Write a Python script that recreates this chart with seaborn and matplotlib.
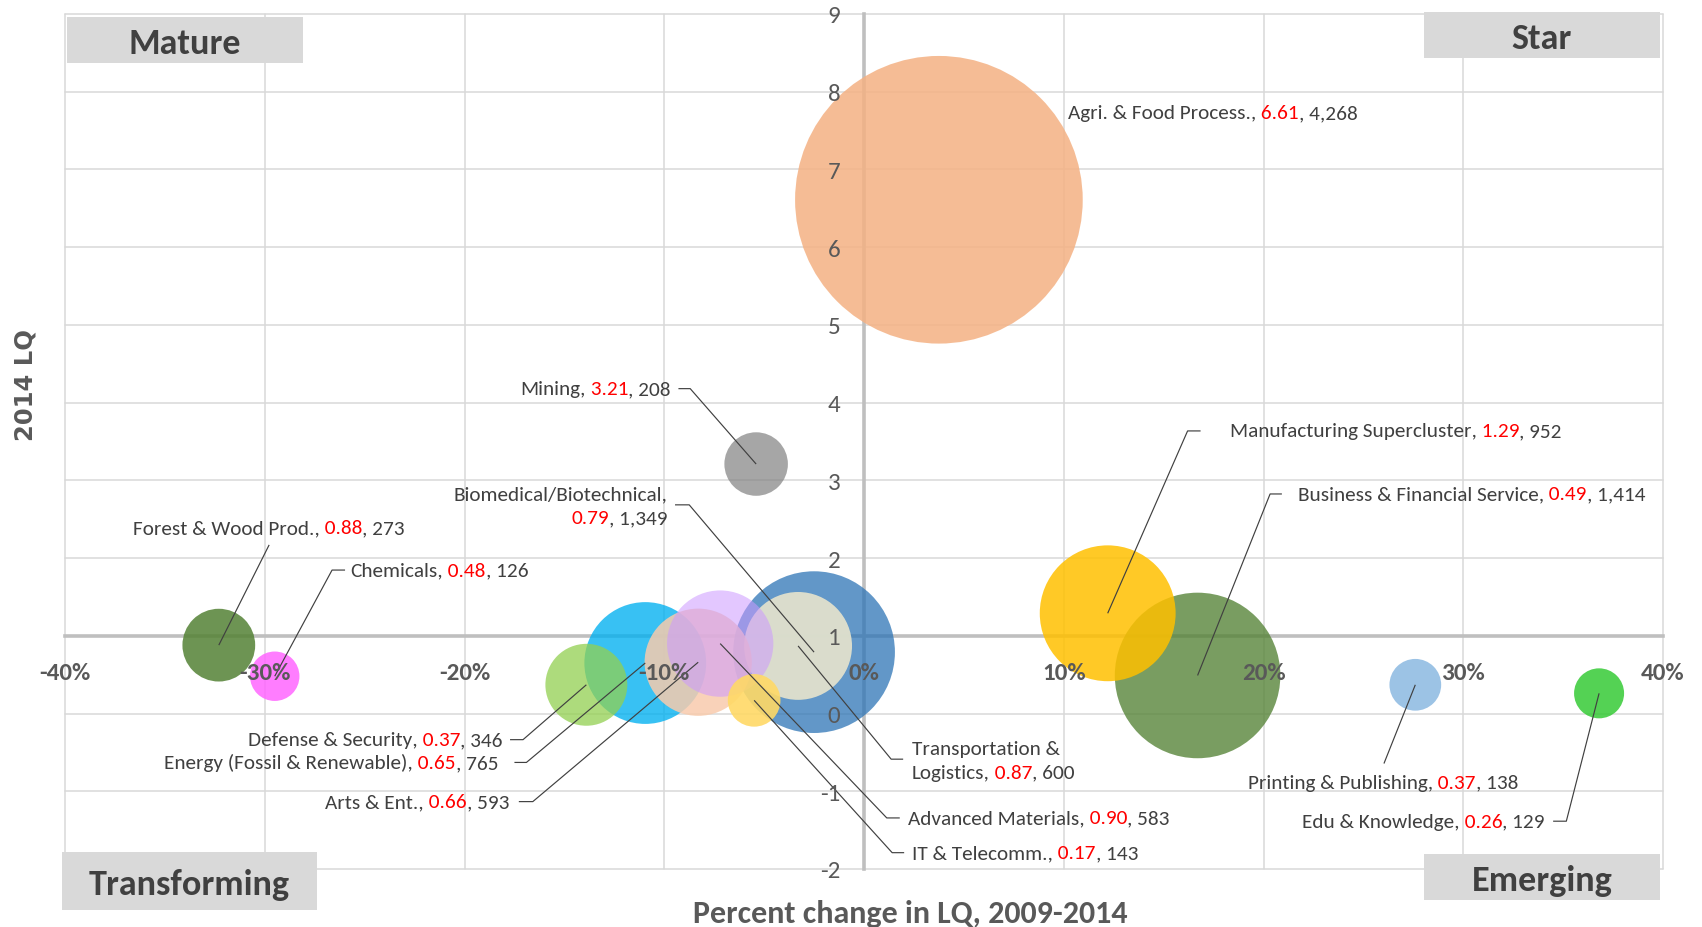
import matplotlib
matplotlib.use("Agg")
import matplotlib.pyplot as plt
from matplotlib.offsetbox import TextArea, HPacker, VPacker, AnnotationBbox
from matplotlib.patches import Rectangle
import pandas as pd
import seaborn as sns

# data (x = % change in LQ 2009-2014, y = 2014 LQ, size = employment)
clusters = ["Agri. & Food Process.", "Mining", "Forest & Wood Prod.", "Chemicals",
            "Biomedical/Biotechnical", "Transportation & Logistics",
            "Energy (Fossil & Renewable)", "Defense & Security", "Arts & Ent.",
            "Advanced Materials", "IT & Telecomm.", "Business & Financial Service",
            "Manufacturing Supercluster", "Printing & Publishing", "Edu & Knowledge"]
pct_change = [0.0375, -0.054, -0.323, -0.295, -0.025, -0.033, -0.1095, -0.139,
              -0.083, -0.072, -0.055, 0.167, 0.122, 0.276, 0.368]
lq_2014 = [6.61, 3.21, 0.88, 0.48, 0.79, 0.87, 0.65, 0.37, 0.66, 0.90, 0.17,
           0.49, 1.29, 0.37, 0.26]
employment = [4268, 208, 273, 126, 1349, 600, 765, 346, 593, 583, 143, 1414,
              952, 138, 129]
colors = ["#F4B183D9", "#808080B3", "#548235D9", "#FF66FFD9", "#2E75B6BF",
          "#E1E1CDF2", "#00B0F0C7", "#92D050BF", "#F8CBADD9", "#CC99FF8C",
          "#FFD966E6", "#548235C7", "#FFC000D9", "#5B9BD599", "#36CA36D9"]

x_ticks = [-0.4, -0.3, -0.2, -0.1, 0.0, 0.1, 0.2, 0.3, 0.4]
x_tick_labels = ["-40%", "-30%", "-20%", "-10%", "0%", "10%", "20%", "30%", "40%"]
y_ticks = [-2, -1, 0, 1, 2, 3, 4, 5, 6, 7, 8, 9]

quadrants = ["Mature", "Star", "Transforming", "Emerging"]

# label placement: (x, y, alignment, leader elbow points)
label_pos = {
    "Agri. & Food Process.": (0.1022, 7.73, "left", None),
    "Mining": (-0.0967, 4.18, "right", [(-0.0929, 4.18), (-0.0870, 4.18)]),
    "Biomedical/Biotechnical": (-0.0984, 2.67, "right", [(-0.0946, 2.685), (-0.0875, 2.685)]),
    "Forest & Wood Prod.": (-0.298, 2.39, "center", [(-0.2978, 2.17)]),
    "Chemicals": (-0.257, 1.846, "left", [(-0.2598, 1.846), (-0.2663, 1.846)]),
    "Defense & Security": (-0.181, -0.336, "right", [(-0.1772, -0.336), (-0.1707, -0.336)]),
    "Energy (Fossil & Renewable)": (-0.1832, -0.629, "right", [(-0.175, -0.629), (-0.169, -0.629)]),
    "Arts & Ent.": (-0.1777, -1.133, "right", [(-0.1728, -1.133), (-0.1658, -1.133)]),
    "Transportation & Logistics": (0.0239, -0.601, "left", [(0.0196, -0.587), (0.0136, -0.587)]),
    "Advanced Materials": (0.0222, -1.343, "left", [(0.0179, -1.343), (0.0114, -1.343)]),
    "IT & Telecomm.": (0.0242, -1.79, "left", [(0.0201, -1.79), (0.0141, -1.79)]),
    "Manufacturing Supercluster": (0.1832, 3.636, "left", [(0.1685, 3.636), (0.162, 3.636)]),
    "Business & Financial Service": (0.2174, 2.825, "left", [(0.2092, 2.825), (0.2033, 2.825)]),
    "Printing & Publishing": (0.2598, -0.881, "center", [(0.2603, -0.643)]),
    "Edu & Knowledge": (0.3408, -1.385, "right", [(0.345, -1.385), (0.3516, -1.385)]),
}

FONT = "Carlito"
TEXT = "#404040"
AXIS_TEXT = "#595959"
W, H = 1702, 928

sns.set_theme(style="white")
plt.rcParams["font.family"] = [FONT, "DejaVu Sans"]

df = pd.DataFrame({"cluster": clusters, "pct_change": pct_change,
                   "lq": lq_2014, "employment": employment})

fig = plt.figure(figsize=(W / 100, H / 100), dpi=100)
ax = fig.add_axes([65 / W, 1 - 870 / H, (1663 - 65) / W, (870 - 15) / H])

# gridlines
for xv in x_ticks:
    ax.axvline(xv, color="#D9D9D9", lw=1.1, zorder=0.5, clip_on=False)
for yv in y_ticks:
    ax.axhline(yv, color="#D9D9D9", lw=1.1, zorder=0.5, clip_on=False)

k = 10.05  # marker area (pt^2) per employee
sns.scatterplot(data=df, x="pct_change", y="lq", hue="cluster",
                palette=dict(zip(clusters, colors)), size="employment",
                sizes=(k * min(employment), k * max(employment)),
                size_norm=(min(employment), max(employment)),
                linewidth=0, legend=False, ax=ax, zorder=1)

# axes cross at x = 0 and y = 1, like the original
for side in ["top", "right"]:
    ax.spines[side].set_visible(False)
ax.spines["left"].set_position(("data", 0))
ax.spines["bottom"].set_position(("data", 1))
for side in ["left", "bottom"]:
    ax.spines[side].set_color("#BFBFBF")
    ax.spines[side].set_linewidth(2.6)
    ax.spines[side].set_zorder(0.8)

ax.set_xlim(-0.4, 0.4)
ax.set_ylim(-2, 9)
ax.set_xticks(x_ticks, labels=x_tick_labels, fontweight="bold", fontsize=18,
              color=AXIS_TEXT)
ax.set_yticks(y_ticks, labels=[str(v) for v in y_ticks], fontsize=18, color=AXIS_TEXT)
ax.tick_params(axis="x", length=0, pad=19)
ax.tick_params(axis="y", length=0, pad=17)
ax.set_xlabel("")
ax.set_ylabel("")
ax.xaxis.set_zorder(4)
ax.yaxis.set_zorder(4)


def label_box(name, lq, emp, fs=15.3):
    base = dict(color=TEXT, fontsize=fs, fontfamily=FONT)
    red = dict(color="#FF0000", fontsize=fs, fontfamily=FONT)
    tail = TextArea(f", {emp:,}", textprops=base)
    if name == "Biomedical/Biotechnical":
        line2 = HPacker(children=[TextArea(f"{lq:.2f}", textprops=red), tail],
                        align="baseline", pad=0, sep=0)
        return VPacker(children=[TextArea(name + ",", textprops=base), line2],
                       align="right", pad=0, sep=5)
    if name == "Transportation & Logistics":
        line2 = HPacker(children=[TextArea("Logistics,", textprops=base),
                                  TextArea(f" {lq:.2f}", textprops=red), tail],
                        align="baseline", pad=0, sep=0)
        return VPacker(children=[TextArea("Transportation &", textprops=base), line2],
                       align="left", pad=0, sep=5)
    return HPacker(children=[TextArea(name + ",", textprops=base),
                             TextArea(f" {lq:.2f}", textprops=red), tail],
                   align="baseline", pad=0, sep=0)


align_x = {"left": 0.0, "right": 1.0, "center": 0.5}
for name, xv, yv, emp in zip(clusters, pct_change, lq_2014, employment):
    lx, ly, ha, elbow = label_pos[name]
    ab = AnnotationBbox(label_box(name, yv, emp), (lx, ly), xycoords="data",
                        box_alignment=(align_x[ha], 0.5), frameon=False, pad=0,
                        zorder=3, annotation_clip=False)
    ax.add_artist(ab)
    if elbow:
        pts = elbow + [(xv, yv)]
        ax.plot([p[0] for p in pts], [p[1] for p in pts], color="#404040",
                lw=0.85, zorder=2, solid_capstyle="butt")

# quadrant boxes (pixel boxes: x0, y0 from top, x1, y1)
quad_boxes = [(67, 18, 303, 64), (1424, 13, 1660, 59), (62, 853, 317, 911),
              (1424, 855, 1660, 901)]
for label, (x0, y0, x1, y1) in zip(quadrants, quad_boxes):
    fig.add_artist(Rectangle((x0 / W, 1 - y1 / H), (x1 - x0) / W, (y1 - y0) / H,
                             transform=fig.transFigure, facecolor="#D9D9D9",
                             edgecolor="none", zorder=5))
    fig.text((x0 + x1) / 2 / W, 1 - ((y0 + y1) / 2 + 3) / H, label, ha="center",
             va="center", fontsize=26, fontweight="bold", color=TEXT, zorder=6)

fig.text(910 / W, 1 - 923 / H, "Percent change in LQ, 2009-2014", ha="center",
         va="baseline", fontsize=23, fontweight="bold", color=AXIS_TEXT)
fig.text(26 / W, 1 - 385 / H, "2014 LQ", rotation=90, ha="center", va="center",
         fontsize=17.5, fontweight="bold", color=AXIS_TEXT, family="DejaVu Sans")

fig.savefig("out.png", dpi=100)
